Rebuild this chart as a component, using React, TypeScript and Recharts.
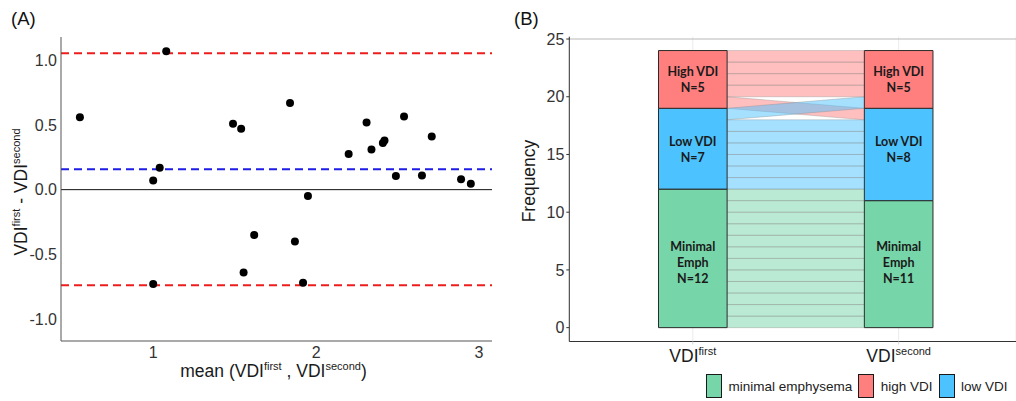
import React from 'react'
import {
  Area,
  CartesianGrid,
  ComposedChart,
  ReferenceArea,
  ReferenceLine,
  Scatter,
  ScatterChart,
  XAxis,
  YAxis
} from 'recharts'

const FONT = '"Liberation Sans", Arial, sans-serif'
const LABEL_FONT = 'Lato, "Open Sans", sans-serif'

// (A) Bland-Altman plot
const meanVdi = [
  0.55, 1.0, 1.04, 1.08, 1.49, 1.54, 1.84, 1.95, 2.2, 2.31, 2.34, 2.41,
  2.42, 2.49, 2.54, 2.65, 2.71, 2.89, 2.95, 1.0, 1.555, 1.62, 1.87, 1.92
]
const diffVdi = [
  0.56, 0.07, 0.17, 1.07, 0.51, 0.47, 0.67, -0.05, 0.275, 0.52, 0.31, 0.36,
  0.38, 0.105, 0.565, 0.11, 0.41, 0.08, 0.045, -0.73, -0.64, -0.35, -0.4, -0.72
]
const bias = 0.157
const loaUpper = 1.055
const loaLower = -0.74
const diffTicks = [-1, -0.5, 0, 0.5, 1]
const meanTicks = [1, 2, 3]

// (B) alluvial plot
const timepoints = ['first', 'second']
const groupKeys = ['minimal', 'low', 'high'] // bottom to top
const legendOrder = ['minimal', 'high', 'low']
const legendNames: Record<string, string> = {
  minimal: 'minimal emphysema',
  high: 'high VDI',
  low: 'low VDI'
}
const groupColors: Record<string, string> = {
  minimal: '#77d6a9',
  low: '#4cc3ff',
  high: '#ff7f7f'
}
const stratumText: Record<string, string[]> = {
  minimal: ['Minimal', 'Emph'],
  low: ['Low VDI'],
  high: ['High VDI']
}
const countsFirst = [12, 7, 5]
const countsSecond = [11, 8, 5]
const labelCenters = [5.6, 15.4, 21.45]
// [from group, to group, subjects]
const transitions: [number, number, number][] = [
  [0, 0, 11],
  [0, 1, 1],
  [1, 1, 6],
  [2, 1, 1],
  [1, 2, 1],
  [2, 2, 4]
]
const freqTicks = [0, 5, 10, 15, 20, 25]

const blandData = meanVdi.map((m, i) => ({ mean: m, diff: diffVdi[i] }))

const HALF = 1 / 6

const cumulative = (counts: number[]) => {
  const out: { lo: number; hi: number }[] = []
  counts.forEach((c, i) => {
    const lo = i ? out[i - 1].hi : 0
    out.push({ lo, hi: lo + c })
  })
  return out
}
const strata = [cumulative(countsFirst), cumulative(countsSecond)]
const counts = [countsFirst, countsSecond]

// left side stacks by (from, to), right side by (to, from)
const stackFlows = (side: number) => {
  const order = transitions
    .map((_, i) => i)
    .sort((a, b) => {
      const ta = transitions[a]
      const tb = transitions[b]
      return side === 0
        ? ta[0] - tb[0] || ta[1] - tb[1]
        : ta[1] - tb[1] || ta[0] - tb[0]
    })
  const starts: number[] = []
  let y = 0
  order.forEach((i) => {
    starts[i] = y
    y += transitions[i][2]
  })
  return starts
}
const leftStarts = stackFlows(0)
const rightStarts = stackFlows(1)

const flowBands = transitions.flatMap(([from, , n], i) =>
  Array.from({ length: n }, (_, k) => ({
    key: `f${i}-${k}`,
    color: groupColors[groupKeys[from]],
    points: [
      { x: 1 + HALF, band: [leftStarts[i] + k, leftStarts[i] + k + 1] },
      { x: 2 - HALF, band: [rightStarts[i] + k, rightStarts[i] + k + 1] }
    ]
  }))
)

const YTitleA = () => (
  <text
    x={27}
    y={192}
    transform='rotate(-90, 27, 192)'
    textAnchor='middle'
    fontFamily={FONT}
    fill='#1a1a1a'
  >
    <tspan fontSize={17.5}>VDI</tspan>
    <tspan fontSize={11} dy={-7}>first</tspan>
    <tspan fontSize={17.5} dy={7}> - VDI</tspan>
    <tspan fontSize={11} dy={-7}>second</tspan>
  </text>
)

const XTitleA = ({ viewBox }: any) => (
  <text
    x={viewBox.x + viewBox.width / 2 - 3}
    y={377}
    textAnchor='middle'
    fontFamily={FONT}
    fill='#1a1a1a'
  >
    <tspan fontSize={17.5}>mean (VDI</tspan>
    <tspan fontSize={11} dy={-7}>first</tspan>
    <tspan fontSize={17.5} dy={7}> , VDI</tspan>
    <tspan fontSize={11} dy={-7}>second</tspan>
    <tspan fontSize={17.5} dy={7}>)</tspan>
  </text>
)

const YTitleB = () => (
  <text
    x={35}
    y={181}
    transform='rotate(-90, 35, 181)'
    textAnchor='middle'
    fontFamily={FONT}
    fontSize={17.5}
    fill='#1a1a1a'
  >
    Frequency
  </text>
)

const TimeTick = ({ x, y, payload }: any) => (
  <text x={x} y={y + 15} textAnchor='middle' fontFamily={FONT} fill='#1a1a1a'>
    <tspan fontSize={17.5}>VDI</tspan>
    <tspan fontSize={11} dy={-7}>
      {timepoints[payload.value - 1]}
    </tspan>
  </text>
)

const StratumLabel = ({ viewBox, lines }: any) => {
  const cx = viewBox.x + viewBox.width / 2
  const cy = viewBox.y + viewBox.height / 2
  return (
    <g>
      {lines.map((line: string, i: number) => (
        <text
          key={line}
          x={cx}
          y={cy + (i - (lines.length - 1) / 2) * 16}
          textAnchor='middle'
          dominantBaseline='central'
          fontFamily={LABEL_FONT}
          fontWeight={700}
          fontSize={12.5}
          fill='#1a1a1a'
        >
          {line}
        </text>
      ))}
    </g>
  )
}

const tickStyle = { fontSize: 16, fill: '#333', fontFamily: FONT }

export default function App() {
  return (
    <div
      style={{
        position: 'absolute',
        left: 0,
        top: 0,
        width: 1016,
        height: 401,
        background: '#fff',
        fontFamily: FONT,
        overflow: 'hidden'
      }}
    >
      <div style={{ position: 'absolute', left: 0, top: 0 }}>
        <ScatterChart
          width={500}
          height={401}
          margin={{ top: 37, right: 8, bottom: 0, left: 0 }}
        >
          <XAxis
            type='number'
            dataKey='mean'
            domain={[0.434, 3.08]}
            ticks={meanTicks}
            allowDataOverflow
            tickLine={false}
            tickSize={4}
            tickMargin={2}
            axisLine={{ stroke: '#555' }}
            tick={tickStyle}
            height={60}
            label={<XTitleA />}
          />
          <YAxis
            type='number'
            dataKey='diff'
            domain={[-1.17, 1.18]}
            ticks={diffTicks}
            allowDataOverflow
            tickFormatter={(v: number) => v.toFixed(1)}
            tickLine={false}
            tickSize={2}
            tickMargin={2}
            axisLine={{ stroke: '#555' }}
            tick={tickStyle}
            width={61}
            label={<YTitleA />}
          />
          <ReferenceLine y={0} stroke='#111' strokeWidth={1} />
          <ReferenceLine
            y={loaUpper}
            stroke='#ee1d1d'
            strokeWidth={2}
            strokeDasharray='8 5'
          />
          <ReferenceLine
            y={loaLower}
            stroke='#ee1d1d'
            strokeWidth={2}
            strokeDasharray='8 5'
          />
          <ReferenceLine
            y={bias}
            stroke='#1d1de6'
            strokeWidth={2}
            strokeDasharray='8 5'
          />
          <Scatter
            data={blandData}
            isAnimationActive={false}
            shape={(p: any) => <circle cx={p.cx} cy={p.cy} r={4} fill='#000' />}
          />
        </ScatterChart>
      </div>

      <div style={{ position: 'absolute', left: 500, top: 0 }}>
        <ComposedChart
          width={516}
          height={401}
          margin={{ top: 36.7, right: 0, bottom: 0, left: 0 }}
        >
          <CartesianGrid horizontal={false} stroke='#ebebeb' />
          <XAxis
            type='number'
            dataKey='x'
            domain={[0.4, 2.57]}
            ticks={[1, 2]}
            allowDataOverflow
            tickLine={{ stroke: '#d8d8d8' }}
            tickSize={3}
            tickMargin={2}
            axisLine={{ stroke: '#333' }}
            tick={<TimeTick />}
            height={59.5}
          />
          <YAxis
            type='number'
            domain={[-1.2, 25.2]}
            ticks={freqTicks}
            allowDataOverflow
            tickLine={{ stroke: '#333' }}
            tickSize={3}
            tickMargin={2}
            axisLine={{ stroke: '#333' }}
            tick={tickStyle}
            width={69.3}
            label={<YTitleB />}
          />
          <ReferenceLine y={25} stroke='#b8b8b8' strokeWidth={1} />
          {flowBands.map((b) => (
            <Area
              key={b.key}
              data={b.points}
              dataKey='band'
              type='linear'
              fill={b.color}
              fillOpacity={0.5}
              stroke='#8c8c8c'
              strokeOpacity={0.45}
              strokeWidth={0.8}
              dot={false}
              activeDot={false}
              isAnimationActive={false}
            />
          ))}
          {strata.map((col, t) =>
            col.map((s, g) => (
              <ReferenceArea
                key={`s${t}-${g}`}
                x1={t + 1 - HALF}
                x2={t + 1 + HALF}
                y1={s.lo}
                y2={s.hi}
                fill={groupColors[groupKeys[g]]}
                fillOpacity={1}
                stroke='#2b2b2b'
                strokeWidth={1}
              />
            ))
          )}
          {timepoints.map((_, t) =>
            groupKeys.map((g, gi) => (
              <ReferenceArea
                key={`l${t}-${g}`}
                x1={t + 1 - HALF}
                x2={t + 1 + HALF}
                y1={labelCenters[gi] - 0.5}
                y2={labelCenters[gi] + 0.5}
                fill='none'
                stroke='none'
                label={
                  <StratumLabel
                    lines={[...stratumText[g], `N=${counts[t][gi]}`]}
                  />
                }
              />
            ))
          )}
        </ComposedChart>
      </div>

      <div
        style={{
          position: 'absolute',
          left: 11,
          top: 9.5,
          fontSize: 18.5,
          lineHeight: '18px',
          color: '#111'
        }}
      >
        (A)
      </div>
      <div
        style={{
          position: 'absolute',
          left: 514,
          top: 9.5,
          fontSize: 18.5,
          lineHeight: '18px',
          color: '#111'
        }}
      >
        (B)
      </div>

      <div
        style={{
          position: 'absolute',
          left: 706,
          top: 374,
          display: 'flex',
          alignItems: 'center',
          fontSize: 13.5,
          color: '#222'
        }}
      >
        {legendOrder.map((g, i) => (
          <div
            key={g}
            style={{
              display: 'flex',
              alignItems: 'center',
              marginLeft: i ? 6 : 0
            }}
          >
            <div
              style={{
                width: 16,
                height: 24,
                boxSizing: 'border-box',
                border: '1.5px solid #1a1a1a',
                background: groupColors[g]
              }}
            />
            <span style={{ marginLeft: 6.5 }}>{legendNames[g]}</span>
          </div>
        ))}
      </div>
    </div>
  )
}
